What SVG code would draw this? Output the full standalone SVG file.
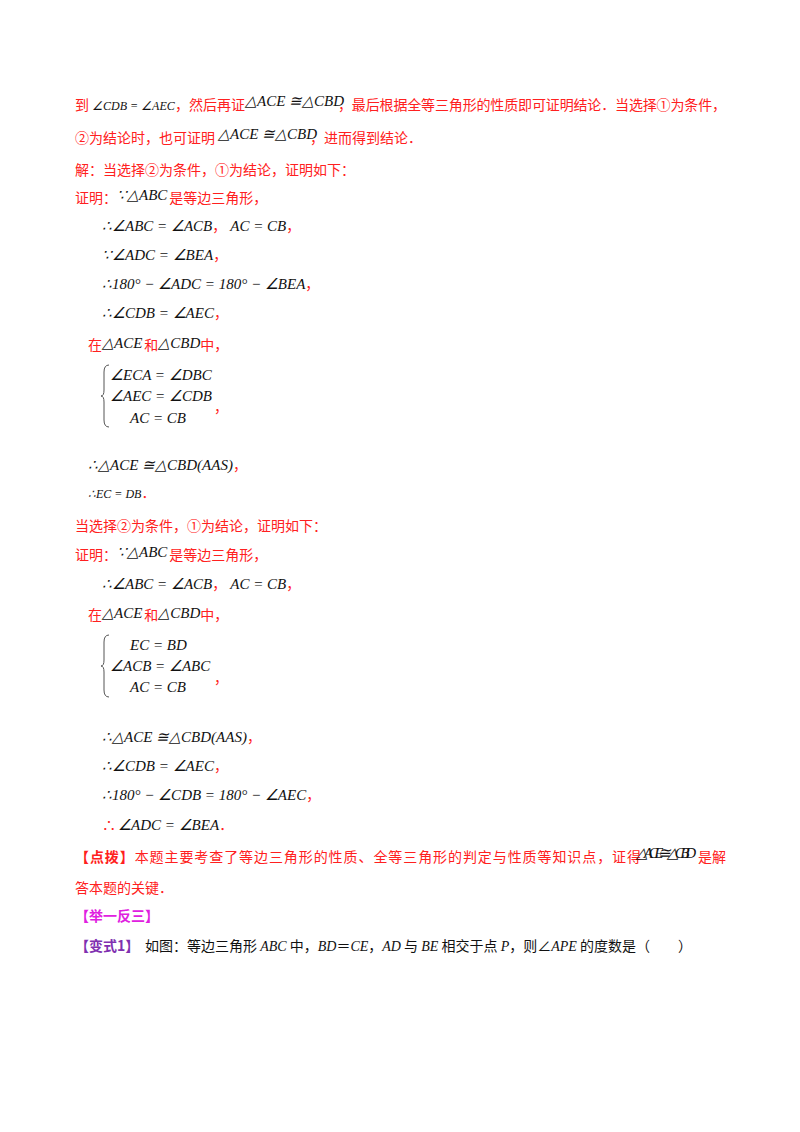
<svg xmlns="http://www.w3.org/2000/svg" width="800" height="1132" viewBox="0 0 800 1132">
<style>
.r{fill:#ff2020;font-family:"Noto Sans CJK SC","Liberation Serif",serif;font-size:14px}
.m{fill:#111;font-family:"Liberation Serif",serif;font-style:italic;font-size:15px}
.ms{fill:#111;font-family:"Liberation Serif",serif;font-style:italic;font-size:12px}
.k{fill:#111;font-family:"Noto Sans CJK SC",serif;font-size:14px}
.p{fill:#e020e0;font-family:"Noto Sans CJK SC",serif;font-size:14px;font-weight:bold}
.v{fill:#8030b0;font-family:"Noto Sans CJK SC",serif;font-size:14px;font-weight:bold}
.c{fill:#ff2020;font-family:"Noto Sans CJK SC",serif;font-style:normal;font-size:14px}
.br{fill:none;stroke:#555;stroke-width:1}
</style>
<rect width="800" height="1132" fill="#fff"/>
<g id="text">
<text class="r" x="75" y="110">到<tspan class="ms" dx="3">∠CDB = ∠AEC</tspan></text>
<text class="r" x="175" y="110">，然后再证</text><text class="m" x="245" y="106">△ACE ≅△CBD</text>
<text class="r" x="338" y="110" textLength="388">，最后根据全等三角形的性质即可证明结论．当选择①为条件，</text>
<text class="r" x="75" y="143">②为结论时，也可证明</text><text class="m" x="218" y="139">△ACE ≅△CBD</text>
<text class="r" x="310" y="143">，进而得到结论．</text>
<text class="r" x="75" y="175">解：当选择②为条件，①为结论，证明如下：</text>
<text class="r" x="75" y="203">证明：<tspan class="m" dy="-3">∵△ABC</tspan><tspan dy="3" dx="2">是等边三角形，</tspan></text>
<text class="m" x="102" y="231">∴∠ABC = ∠ACB<tspan class="c">，</tspan><tspan dx="4">AC = CB</tspan><tspan class="c">，</tspan></text>
<text class="m" x="102" y="260">∵∠ADC = ∠BEA<tspan class="c">，</tspan></text>
<text class="m" x="102" y="289">∴180° − ∠ADC = 180° − ∠BEA<tspan class="c">，</tspan></text>
<text class="m" x="102" y="318">∴∠CDB = ∠AEC<tspan class="c">，</tspan></text>
<text class="r" x="88" y="350">在<tspan class="m" dy="-2">△ACE</tspan><tspan dy="2" dx="2">和</tspan><tspan class="m" dy="-2">△CBD</tspan><tspan dy="2">中，</tspan></text>
<path class="br" d="M109,365 Q104,365 104,372 L104,390 Q104,396 101,396 Q104,396 104,402 L104,420 Q104,427 109,427"/>
<text class="m" x="110" y="380">∠ECA = ∠DBC</text>
<text class="m" x="110" y="401">∠AEC = ∠CDB</text>
<text class="m" x="130" y="423">AC = CB</text>
<text class="r" x="214" y="412">，</text>
<text class="m" x="88" y="470">∴△ACE ≅△CBD(AAS)<tspan class="c">，</tspan></text>
<text class="ms" x="88" y="498">∴EC = DB<tspan class="c">．</tspan></text>
<text class="r" x="75" y="531">当选择②为条件，①为结论，证明如下：</text>
<text class="r" x="75" y="560">证明：<tspan class="m" dy="-3">∵△ABC</tspan><tspan dy="3" dx="2">是等边三角形，</tspan></text>
<text class="m" x="102" y="589">∴∠ABC = ∠ACB<tspan class="c">，</tspan><tspan dx="4">AC = CB</tspan><tspan class="c">，</tspan></text>
<text class="r" x="88" y="620">在<tspan class="m" dy="-2">△ACE</tspan><tspan dy="2" dx="2">和</tspan><tspan class="m" dy="-2">△CBD</tspan><tspan dy="2">中，</tspan></text>
<path class="br" d="M109,635 Q104,635 104,642 L104,660 Q104,666 101,666 Q104,666 104,672 L104,690 Q104,697 109,697"/>
<text class="m" x="130" y="650">EC = BD</text>
<text class="m" x="110" y="671">∠ACB = ∠ABC</text>
<text class="m" x="130" y="692">AC = CB</text>
<text class="r" x="214" y="683">，</text>
<text class="m" x="102" y="742">∴△ACE ≅△CBD(AAS)<tspan class="c">，</tspan></text>
<text class="m" x="102" y="771">∴∠CDB = ∠AEC<tspan class="c">，</tspan></text>
<text class="m" x="102" y="800">∴180° − ∠CDB = 180° − ∠AEC<tspan class="c">，</tspan></text>
<text class="r" x="102" y="830">∴<tspan class="m" dx="2">∠ADC = ∠BEA</tspan><tspan>．</tspan></text>
<text class="r" x="75" y="862" textLength="566"><tspan font-weight="bold">【点拨】</tspan>本题主要考查了等边三角形的性质、全等三角形的判定与性质等知识点，证得</text>
<text class="m" x="636" y="858" textLength="60">△ACE ≅△CBD</text><text class="r" x="698" y="862">是解</text>
<text class="r" x="75" y="893">答本题的关键．</text>
<text class="p" x="75" y="921">【举一反三】</text>
<text class="v" x="75" y="951">【变式1】</text><text class="k" x="145" y="951">如图：等边三角形 <tspan font-family="Liberation Serif" font-style="italic">ABC</tspan> 中，<tspan font-family="Liberation Serif" font-style="italic">BD</tspan>＝<tspan font-family="Liberation Serif" font-style="italic">CE</tspan>，<tspan font-family="Liberation Serif" font-style="italic">AD</tspan> 与 <tspan font-family="Liberation Serif" font-style="italic">BE</tspan> 相交于点 <tspan font-family="Liberation Serif" font-style="italic">P</tspan>，则∠<tspan font-family="Liberation Serif" font-style="italic">APE</tspan> 的度数是（　　）</text>
</g>
</svg>
